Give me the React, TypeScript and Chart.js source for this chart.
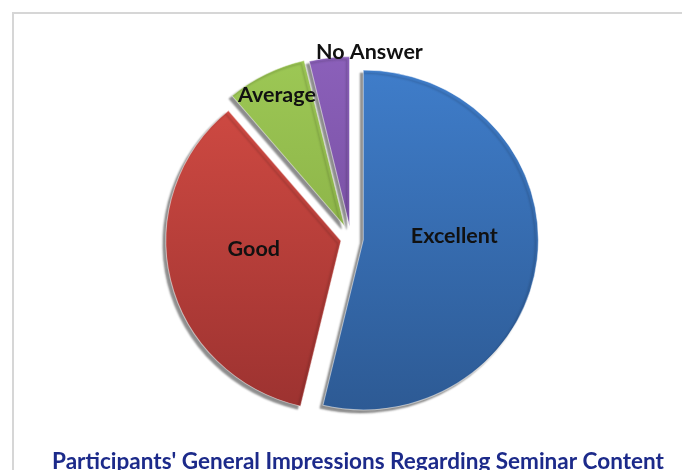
import React, { useEffect, useRef } from "react";
import { Chart, registerables } from "chart.js";

Chart.register(...registerables);

const categories = ["Excellent", "Good", "Average", "No Answer"];
const counts = [29, 19, 4, 2];
const titleText = "Participants' General Impressions Regarding Seminar Content";

const lightColors = ["#3f7dca", "#d44c44", "#9dc855", "#8b60ba"];
const darkColors = ["#2d5a94", "#9c3230", "#7fa33e", "#6a4491"];
const explode = [12, 10, 14, 12];
const stretchX = 1.03;
const labelRadius = [0.52, 0.5, 0.86, 1.03];
const labelAngleShift = [-9, 8, 0, 13];

export default function App() {
  const ref = useRef<HTMLCanvasElement | null>(null);

  useEffect(() => {
    const canvas = ref.current;
    if (!canvas) return;

    const explodedPie = {
      id: "explodedPie",
      beforeDatasetDraw(chart: any) {
        const c = chart.ctx;
        const meta = chart.getDatasetMeta(0);
        c.save();
        c.shadowColor = "rgba(0,0,0,0.45)";
        c.shadowOffsetX = -3;
        c.shadowOffsetY = 3;
        c.shadowBlur = 2;
        meta.data.forEach((arc: any, i: number) => {
          const p = arc.getProps(["x", "y", "startAngle", "endAngle"], true);
          const mid = (p.startAngle + p.endAngle) / 2;
          c.save();
          c.translate(p.x, p.y);
          c.scale(stretchX, 1);
          c.translate(-p.x, -p.y);
          c.translate(Math.cos(mid) * explode[i], Math.sin(mid) * explode[i]);
          arc.draw(c);
          c.restore();
        });
        c.restore();
        return false;
      },
    };

    const labelPlugin = {
      id: "sliceLabels",
      afterDatasetsDraw(chart: any) {
        const c = chart.ctx;
        const meta = chart.getDatasetMeta(0);
        c.save();
        c.font = "bold 21.5px Lato";
        c.fillStyle = "#111111";
        c.textAlign = "center";
        c.textBaseline = "middle";
        meta.data.forEach((arc: any, i: number) => {
          const p = arc.getProps(["x", "y", "startAngle", "endAngle", "outerRadius"], true);
          const mid = (p.startAngle + p.endAngle) / 2;
          const a = mid + (labelAngleShift[i] * Math.PI) / 180;
          const r = p.outerRadius * labelRadius[i];
          const dx = Math.cos(mid) * explode[i] + Math.cos(a) * r;
          const dy = Math.sin(mid) * explode[i] + Math.sin(a) * r;
          c.fillText(categories[i], p.x + dx * stretchX, p.y + dy);
        });
        c.restore();
      },
    };

    const titlePlugin = {
      id: "bottomTitle",
      afterDraw(chart: any) {
        const c = chart.ctx;
        c.save();
        c.font = "bold 22.5px Lato";
        c.fillStyle = "#1c2a8a";
        c.textAlign = "center";
        c.textBaseline = "middle";
        c.fillText(titleText, 358, 462);
        c.restore();
      },
    };

    const chart = new Chart(canvas, {
      type: "pie",
      data: {
        labels: categories,
        datasets: [
          {
            data: counts,
            backgroundColor: (ctx: any) => {
              const i = ctx.dataIndex;
              const ch = ctx.chart;
              const area = ch.chartArea;
              if (!area) return lightColors[i];
              const g = ch.ctx.createLinearGradient(0, area.top + 40, 0, area.bottom - 40);
              g.addColorStop(0, lightColors[i]);
              g.addColorStop(1, darkColors[i]);
              return g;
            },
            borderColor: "rgba(255,255,255,0.5)",
            borderWidth: 1,
          },
        ],
      },
      options: {
        responsive: false,
        animation: false,
        radius: 170,
        layout: { padding: { left: 20, right: 0, top: 27, bottom: 40 } },
        plugins: {
          legend: { display: false },
          tooltip: { enabled: false },
          title: { display: false },
        },
      },
      plugins: [explodedPie, labelPlugin, titlePlugin],
    } as any);

    return () => chart.destroy();
  }, []);

  return (
    <div style={{ position: "absolute", left: 0, top: 0, width: 682, height: 470, overflow: "hidden", background: "#ffffff" }}>
      <div
        style={{
          position: "absolute",
          left: 12,
          top: 12,
          width: 700,
          height: 500,
          border: "2px solid #d6d6d6",
          boxSizing: "border-box",
        }}
      />
      <canvas ref={ref} width={682} height={490} style={{ position: "absolute", left: 0, top: 0 }} />
    </div>
  );
}
